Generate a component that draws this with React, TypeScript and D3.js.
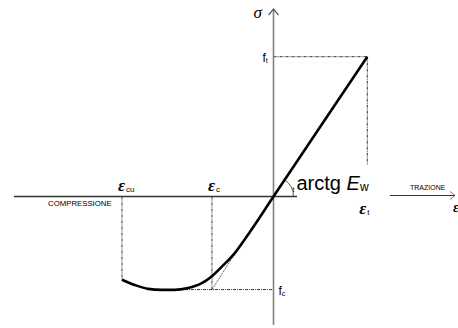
import * as d3 from 'd3';
import React, { useRef, useEffect } from 'react';

// strain / stress values (eps_t = 1, f_t = 1)
const epsT = 1;
const fT = 1;
const epsC = -0.656;
const epsCu = -1.615;
const fC = -0.666;

// constitutive curve (strain, stress)
const curveEps = [-1.615, -1.479, -1.337, -1.195, -1.053, -0.912, -0.769, -0.663, -0.556, -0.42, -0.3, 0, 1];
const curveSig = [-0.595, -0.633, -0.661, -0.668, -0.668, -0.655, -0.622, -0.574, -0.505, -0.41, -0.3, 0, 1];

// tangent (elastic) line continued down to (eps_c, f_c)
const tangentEps = [epsC, -0.36];
const tangentSig = [fC, -0.355];

// axis extents
const xAxisEps = [-2.767, 0.25];
const arrowEps = [1.242, 1.935];
const yAxisSig = [-0.919, 1.341];

function Chart({ width, height }: { width: number; height: number }) {
  const ref = useRef<SVGSVGElement>(null);

  useEffect(() => {
    const svg = d3.select(ref.current);
    svg.selectAll('*').remove();

    const x = d3.scaleLinear().domain([0, 1]).range([273.5, 367.3]);
    const y = d3.scaleLinear().domain([0, 1]).range([196.5, 56.7]);

    const dashed = '3,1,1,1';

    // guide lines
    svg.append('line')
      .attr('x1', x(0)).attr('x2', x(epsT))
      .attr('y1', y(fT)).attr('y2', y(fT))
      .attr('stroke', '#333').attr('stroke-width', 1).attr('stroke-dasharray', dashed);
    svg.append('line')
      .attr('x1', x(epsT)).attr('x2', x(epsT))
      .attr('y1', y(fT)).attr('y2', y(0.225))
      .attr('stroke', '#333').attr('stroke-width', 1).attr('stroke-dasharray', dashed);
    svg.append('line')
      .attr('x1', x(epsCu)).attr('x2', x(epsCu))
      .attr('y1', y(0)).attr('y2', y(-0.595))
      .attr('stroke', '#333').attr('stroke-width', 1).attr('stroke-dasharray', dashed);
    svg.append('line')
      .attr('x1', x(epsC)).attr('x2', x(epsC))
      .attr('y1', y(0)).attr('y2', y(fC))
      .attr('stroke', '#333').attr('stroke-width', 1).attr('stroke-dasharray', dashed);
    svg.append('line')
      .attr('x1', x(-1.2)).attr('x2', x(0))
      .attr('y1', y(fC)).attr('y2', y(fC))
      .attr('stroke', '#333').attr('stroke-width', 1).attr('stroke-dasharray', dashed);
    svg.append('line')
      .attr('x1', x(tangentEps[0])).attr('x2', x(tangentEps[1]))
      .attr('y1', y(tangentSig[0])).attr('y2', y(tangentSig[1]))
      .attr('stroke', '#333').attr('stroke-width', 0.8).attr('stroke-dasharray', '2,1');

    // axes
    svg.append('line')
      .attr('x1', x(xAxisEps[0])).attr('x2', x(xAxisEps[1]))
      .attr('y1', y(0)).attr('y2', y(0))
      .attr('stroke', '#333').attr('stroke-width', 1.3);
    svg.append('line')
      .attr('x1', x(0)).attr('x2', x(0))
      .attr('y1', y(yAxisSig[0])).attr('y2', y(yAxisSig[1]))
      .attr('stroke', '#808080').attr('stroke-width', 1.6);
    const yt = y(yAxisSig[1]);
    svg.append('path')
      .attr('d', `M${x(0) - 5},${yt + 6}L${x(0)},${yt}L${x(0) + 5},${yt + 6}`)
      .attr('fill', 'none').attr('stroke', '#555').attr('stroke-width', 1.2);

    svg.append('line')
      .attr('x1', x(arrowEps[0])).attr('x2', x(arrowEps[1]))
      .attr('y1', y(0) - 1).attr('y2', y(0) - 1)
      .attr('stroke', '#333').attr('stroke-width', 1);
    const xe = x(arrowEps[1]);
    svg.append('path')
      .attr('d', `M${xe - 5},${y(0) - 5}L${xe},${y(0) - 1}L${xe - 5},${y(0) + 3}`)
      .attr('fill', 'none').attr('stroke', '#555').attr('stroke-width', 0.8);

    // angle arc
    const ang = Math.atan2(y(0) - y(1), x(1) - x(0));
    const r = 20;
    svg.append('path')
      .attr('d', `M${x(0) + r},${y(0)}A${r},${r} 0 0 0 ${x(0) + r * Math.cos(ang)},${y(0) - r * Math.sin(ang)}`)
      .attr('fill', 'none').attr('stroke', '#333').attr('stroke-width', 0.8);

    // curve
    const pts = curveEps.map((e, i) => [e, curveSig[i]] as [number, number]);
    const line = d3.line<[number, number]>()
      .x(d => x(d[0])).y(d => y(d[1]))
      .curve(d3.curveMonotoneX);
    svg.append('path')
      .attr('d', line(pts))
      .attr('fill', 'none').attr('stroke', '#000').attr('stroke-width', 2.6);

    // labels
    const sans = 'Liberation Sans, Arial, sans-serif';
    const serif = 'Liberation Serif, Times New Roman, serif';

    const eps = (px: number, py: number, sub: string) => {
      const t = svg.append('text').attr('x', px).attr('y', py)
        .attr('font-family', serif).attr('font-size', 17).attr('font-style', 'italic').attr('font-weight', 'bold');
      t.append('tspan').text('ε');
      t.append('tspan').attr('font-size', 8).attr('font-style', 'normal').attr('font-weight', 'normal')
        .attr('font-family', sans).attr('dx', 1).attr('dy', 1).text(sub);
    };
    eps(x(epsCu) - 4, y(0) - 6, 'cu');
    eps(x(epsC) - 4, y(0) - 6, 'c');
    eps(x(epsT) - 8, y(0) + 17, 't');
    svg.append('text').attr('x', 453).attr('y', 212)
      .attr('font-family', serif).attr('font-size', 14).attr('font-style', 'italic').attr('font-weight', 'bold')
      .text('ε');

    svg.append('text').attr('x', x(0) - 20).attr('y', 18)
      .attr('font-family', serif).attr('font-size', 17).attr('font-style', 'italic')
      .text('σ');

    const f = (px: number, py: number, sub: string) => {
      const t = svg.append('text').attr('x', px).attr('y', py)
        .attr('font-family', sans).attr('font-size', 12);
      t.append('tspan').text('f');
      t.append('tspan').attr('font-size', 7).attr('dy', 1).text(sub);
    };
    f(x(0) - 11, y(fT) + 5, 't');
    f(x(0) + 5, y(fC) + 5, 'c');

    const at = svg.append('text').attr('x', x(0) + 23).attr('y', y(0) - 7)
      .attr('font-family', sans).attr('font-size', 20);
    at.append('tspan').text('arctg ');
    at.append('tspan').attr('font-style', 'italic').text('E');
    at.append('tspan').attr('font-size', 12).attr('dy', 1).text('w');

    svg.append('text').attr('x', x(0) + 19).attr('y', y(0) - 5)
      .attr('font-family', sans).attr('font-size', 7).text('t');

    svg.append('text').attr('x', 48).attr('y', 206)
      .attr('font-family', sans).attr('font-size', 7.8).text('COMPRESSIONE');
    svg.append('text').attr('x', 410).attr('y', 190)
      .attr('font-family', sans).attr('font-size', 7).text('TRAZIONE');
  }, [width, height]);

  return (
    <svg ref={ref} width={width} height={height}
      style={{ position: 'absolute', left: 0, top: 0, background: '#fff' }} />
  );
}

export default function App() {
  return <Chart width={458} height={328} />;
}
